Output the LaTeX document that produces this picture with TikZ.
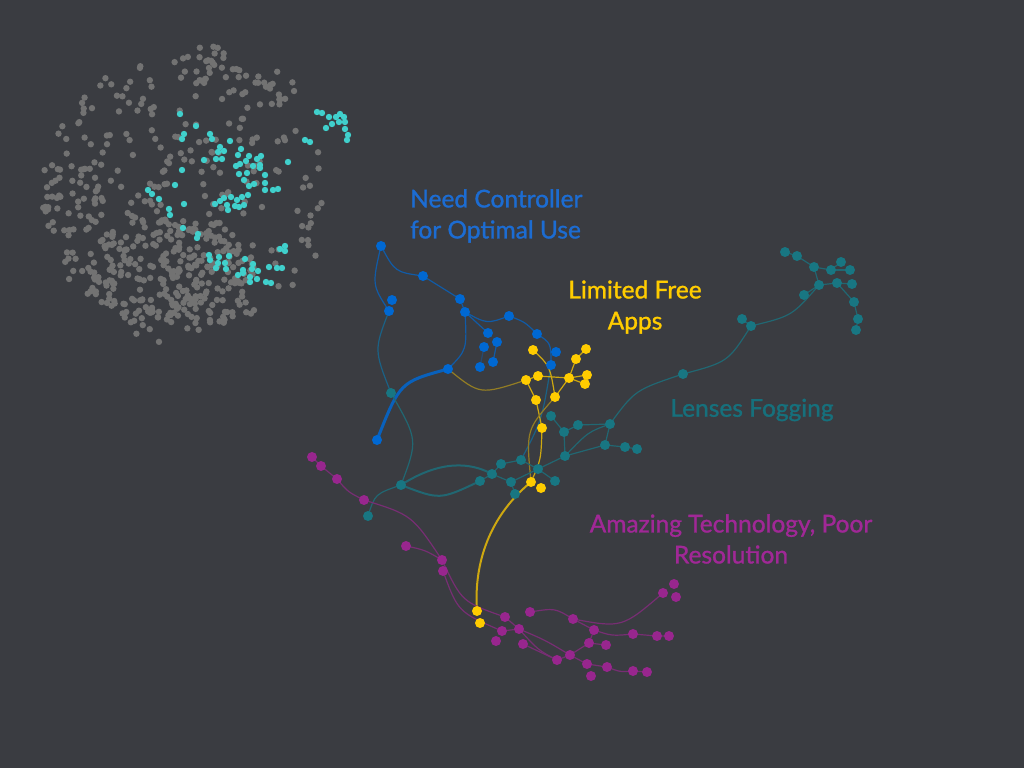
\documentclass[tikz,border=0pt]{standalone}
\usepackage{fontspec}
\setmainfont{Lato}
\newfontfamily\lblfont[FakeBold=1.2]{Lato}
\usetikzlibrary{positioning}
\definecolor{bgcol}{RGB}{58,60,65}
\definecolor{graynode}{RGB}{114,114,114}
\definecolor{cyannode}{RGB}{64,208,204}
\definecolor{bluenode}{RGB}{0,104,210}
\definecolor{bluetext}{RGB}{28,108,210}
\definecolor{yellownode}{RGB}{255,204,0}
\definecolor{tealnode}{RGB}{24,118,130}
\definecolor{tealtext}{RGB}{22,112,124}
\definecolor{magnode}{RGB}{152,38,142}
\definecolor{magtext}{RGB}{160,40,150}

\begin{document}
\begin{tikzpicture}[x=1pt,y=-1pt,
    dot/.style={circle,inner sep=0pt,minimum size=10pt},
    bdot/.style={dot,fill=bluenode},
    ydot/.style={dot,fill=yellownode},
    tdot/.style={dot,fill=tealnode},
    mdot/.style={dot,fill=magnode},
    bedge/.style={draw=bluenode!70!bgcol,line width=1.2pt},
    yedge/.style={draw=yellownode!75!bgcol,line width=1.2pt},
    oedge/.style={draw=yellownode!45!bgcol,line width=1.2pt},
    tedge/.style={draw=tealnode!75!bgcol,line width=1.2pt},
    medge/.style={draw=magnode!65!bgcol,line width=1.2pt},
    lbl/.style={font=\lblfont\fontsize{24.5}{31}\selectfont,inner sep=0pt}]

    % Background
    \fill[bgcol] (0,0) rectangle (1024,768);

    % Gray cluster
    \pgfmathsetseed{17}
    \foreach \cx/\cy/\rx/\ry/\cnt in {185/195/145/140/270, 170/272/85/55/230,
        70/200/35/35/35, 205/65/25/20/20, 275/88/20/22/12, 150/330/15/18/8}{
      \foreach \i in {1,...,\cnt}{
        \pgfmathsetmacro\ang{360*rnd}
        \pgfmathsetmacro\rad{sqrt(rnd)}
        \fill[graynode] ({\cx+\rx*\rad*cos(\ang)},{\cy+\ry*\rad*sin(\ang)}) circle (3.2pt);
      }
    }
    \foreach \x/\y in {180/114,196/126,184/134,182/139,210/134,212/139,230/141,
        220/147,224/151,218/152,241/149,238/155,204/160,216/159,222/159,246/161,
        249/156,257/159,261/156,236/166,240/164,253/166,260/168,260/165,182/170,
        239/174,247/173,265/175,288/162,305/140,310/142,317/112,322/113,329/117,
        336/117,340/114,344/117,332/124,339/122,345/122,326/128,345/129,348/135,
        347/140,175/185,148/190,152/194,159/199,184/204,169/209,170/215,215/204,
        220/201,224/198,231/197,237/200,242/197,248/195,227/205,228/210,235/206,
        239/207,244/205,244/180,249/186,254/184,265/183,265/190,273/190,278/189,
        183/228,198/234,197/238,209/255,210/260,219/257,229/256,245/259,218/263,
        225/263,216/268,226/269,243/270,252/269,258/271,253/264,269/267,277/268,
        282/268,280/249,285/246,285/251,238/275,243/273,250/277,250/282,257/279,
        266/282,271/283}
      \fill[cyannode] (\x,\y) circle (3.2pt);

    % Node positions
    \foreach \n/\x/\y in {b1/381/246,b2/423/276,b3/460/299,b4/465/312,b5/392/300,
        b6/389/311,b7/509/316,b8/537/334,b9/488/333,b10/497/342,b11/484/347,
        b12/493/362,b13/480/367,b14/556/352,b15/551/365,b16/448/369,b17/377/440,
        y1/533/350,y2/586/349,y3/576/359,y4/538/376,y5/526/380,y6/587/375,
        y7/569/378,y8/585/384,y9/555/397,y10/536/400,y11/542/428,y12/531/482,
        y13/541/488,y14/477/611,y15/480/623,
        t1/391/393,t2/401/485,t3/368/516,t4/480/481,t5/492/474,t6/501/464,
        t7/521/460,t8/511/482,t9/515/494,t10/538/469,t11/555/481,t12/565/456,
        t13/564/432,t14/551/416,t15/578/425,t16/610/424,t17/605/445,t18/625/447,
        t19/637/449,t20/683/374,t21/742/319,t22/751/326,t23/804/295,t24/819/285,
        t25/814/267,t26/797/256,t27/785/252,t28/831/270,t29/841/262,t30/850/270,
        t31/837/283,t32/852/284,t33/854/302,t34/858/319,t35/856/330,
        m1/312/457,m2/321/466,m3/337/479,m4/364/500,m5/406/546,m6/442/560,
        m7/443/571,m8/505/617,m9/502/631,m10/496/641,m11/519/629,m12/523/644,
        m13/530/612,m14/573/619,m15/594/630,m16/589/643,m17/606/645,m18/570/655,
        m19/557/660,m20/587/664,m21/591/676,m22/607/667,m23/633/634,m24/657/636,
        m25/669/636,m26/633/671,m27/647/672,m28/663/593,m29/674/584,m30/676/597}
      \coordinate (\n) at (\x,\y);

    % Blue edges
    \draw[bedge] (b1) .. controls (395,272) .. (b2) -- (b3) -- (b4);
    \draw[bedge] (b1) .. controls (372,285) .. (b6);
    \draw[draw=tealnode!60!bluenode!70!bgcol,line width=1.2pt] (b6) .. controls (374,350) .. (t1);
    \draw[bedge] (b4) .. controls (467,350) .. (b16);
    \draw[bedge,line width=3pt,draw=bluenode!85!bgcol] (b16) .. controls (400,382) .. (b17);
    \draw[oedge] (b16) .. controls (480,395) .. (y5);
    \draw[bedge] (b4) .. controls (487,324) .. (b7) .. controls (525,322) .. (b8)
        .. controls (551,343) .. (b15);
    \draw[bedge] (b4) -- (b9);
    \draw[bedge] (b10) -- (b12);
    \draw[bedge,opacity=.5] (b11) -- (b13);
    \draw[draw=tealnode!60!bluenode!70!bgcol,line width=1.2pt] (b15) .. controls (542,420) .. (t7);

    % Yellow edges
    \draw[yedge] (y1) .. controls (550,366) .. (y9) -- (y7) -- (y3) -- (y2);
    \draw[yedge] (y7) -- (y6);
    \draw[yedge] (y7) -- (y8);
    \draw[yedge] (y5) -- (y4) -- (y7);
    \draw[yedge] (y5) -- (y10) -- (y11);
    \draw[oedge] (y9) .. controls (526,430) .. (y12);
    \draw[yedge] (y11) .. controls (541,460) .. (y12);
    \draw[yedge,line width=2pt] (y12) .. controls (485,520) and (474,570) .. (y14);

    % Teal edges
    \draw[tedge] (t1) .. controls (418,440) .. (t2);
    \draw[tedge,line width=2pt] (t2) .. controls (440,460) and (470,462) .. (t5);
    \draw[tedge,line width=2pt] (t2) .. controls (440,500) .. (t4);
    \draw[tedge] (t2) .. controls (375,494) .. (t3);
    \draw[tedge] (t4) -- (t5) -- (t6) -- (t7) -- (t10);
    \draw[tedge] (t5) -- (t8) -- (t10) -- (t11);
    \draw[tedge] (t8) -- (t9);
    \draw[tedge] (t10) -- (t12) -- (t13) -- (t14);
    \draw[tedge] (t13) -- (t15) -- (t16) -- (t17);
    \draw[tedge] (t12) .. controls (588,432) .. (t16);
    \draw[tedge] (t12) -- (t17) -- (t18) -- (t19);
    \draw[tedge] (t16) .. controls (635,390) .. (t20);
    \draw[tedge] (t20) .. controls (728,362) .. (t22);
    \draw[tedge] (t22) .. controls (792,316) .. (t24);
    \draw[tedge] (t21) -- (t22);
    \draw[tedge] (t23) -- (t24) -- (t25) -- (t26) -- (t27);
    \draw[tedge] (t25) -- (t28) -- (t29);
    \draw[tedge] (t28) -- (t30);
    \draw[tedge] (t24) -- (t31) -- (t32);
    \draw[tedge] (t31) -- (t33) -- (t34) -- (t35);

    % Magenta edges
    \draw[medge] (m1) -- (m2) -- (m3) .. controls (348,492) .. (m4);
    \draw[medge] (m4) .. controls (412,515) .. (m6);
    \draw[medge] (m5) .. controls (425,550) .. (m6);
    \draw[medge] (m6) .. controls (462,602) .. (m8);
    \draw[medge] (m7) .. controls (458,612) .. (m9);
    \draw[medge] (m8) -- (m11);
    \draw[medge] (m9) -- (m11) .. controls (538,650) .. (m19);
    \draw[medge] (m11) .. controls (545,640) .. (m18);
    \draw[medge] (m12) -- (m19);
    \draw[medge] (m13) .. controls (555,608) .. (m14);
    \draw[medge] (m14) -- (m15) .. controls (612,636) .. (m23) -- (m24) -- (m25);
    \draw[medge] (m14) .. controls (622,628) .. (m28);
    \draw[medge] (m15) -- (m16) -- (m18) -- (m19);
    \draw[medge] (m16) -- (m17);
    \draw[medge] (m18) -- (m20) -- (m22) .. controls (620,672) .. (m26) -- (m27);

    % Nodes
    \foreach \i in {1,...,17} \node[bdot] (bn\i) at (b\i) {};
    \foreach \i in {1,...,35} \node[tdot] (tn\i) at (t\i) {};
    \foreach \i in {1,...,30} \node[mdot] (mn\i) at (m\i) {};
    \foreach \i in {1,...,15} \node[ydot] (yn\i) at (y\i) {};

    % Labels
    \node[lbl,text=bluetext,align=left,anchor=west] (lblctrl) at (410,216)
        {Need Controller\\for Optimal Use};
    \node[lbl,text=yellownode,align=center] (lblapps) at (635,307) {Limited Free\\Apps};
    \node[lbl,text=tealtext] (lblfog) at (752,410) {Lenses Fogging};
    \node[lbl,text=magtext,align=center] (lblres) at (731,539)
        {Amazing Technology, Poor\\Resolution};
\end{tikzpicture}
\end{document}
